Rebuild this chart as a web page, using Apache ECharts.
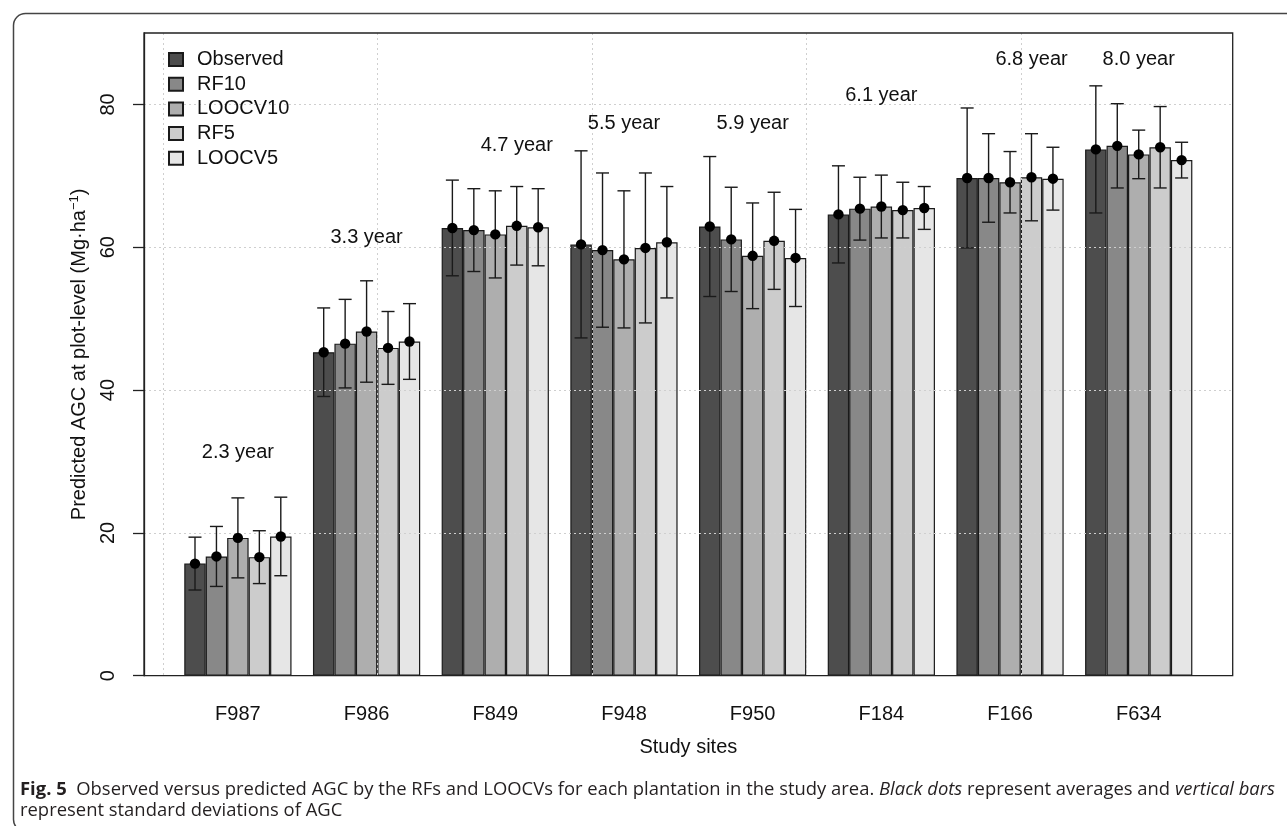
<!DOCTYPE html>
<html><head><meta charset="utf-8">
<script src="https://cdn.jsdelivr.net/npm/echarts@6/dist/echarts.min.js"></script>
<style>html,body{margin:0;padding:0;background:#fff}#c{width:1287px;height:826px}</style>
</head><body><div id="c"></div>
<script>
const sites = ['F987','F986','F849','F948','F950','F184','F166','F634'];
const seriesNames = ['Observed','RF10','LOOCV10','RF5','LOOCV5'];
const observedMean = [15.7,45.3,62.7,60.4,62.9,64.6,69.7,73.7];
const observedSd   = [3.7,6.2,6.7,13.1,9.8,6.8,9.8,8.9];
const rf10Mean     = [16.7,46.5,62.4,59.6,61.1,65.4,69.7,74.2];
const rf10Sd       = [4.2,6.2,5.8,10.8,7.3,4.4,6.2,5.9];
const loocv10Mean  = [19.3,48.2,61.8,58.3,58.8,65.7,69.1,73.0];
const loocv10Sd    = [5.6,7.1,6.1,9.6,7.4,4.4,4.3,3.4];
const rf5Mean      = [16.6,45.9,63.0,59.9,60.9,65.2,69.8,74.0];
const rf5Sd        = [3.7,5.1,5.5,10.5,6.8,3.9,6.1,5.7];
const loocv5Mean   = [19.5,46.8,62.8,60.7,58.5,65.5,69.6,72.2];
const loocv5Sd     = [5.5,5.3,5.4,7.8,6.8,3.0,4.4,2.5];
const ageLabels = ['2.3 year','3.3 year','4.7 year','5.5 year','5.9 year','6.1 year','6.8 year','8.0 year'];
const ageLabelX = [0,1,2.167,3,4,5,6.167,7];   // in site (category) units
const ageLabelY = [31.3,61.4,74.3,77.3,77.3,81.3,86.3,86.3];
const yTicks = [0,20,40,60,80];
// caption segments: [text, style] (b = bold, i = italic, '' = regular)
const captionLine1 = [['Fig. 5','b'],['  Observed versus predicted AGC by the RFs and LOOCVs for each plantation in the study area. ',''],['Black dots','i'],[' represent averages and ',''],['vertical bars','i']];
const captionLine2 = 'represent standard deviations of AGC';

const means = [observedMean, rf10Mean, loocv10Mean, rf5Mean, loocv5Mean];
const sds = [observedSd, rf10Sd, loocv10Sd, rf5Sd, loocv5Sd];
const colors = ['#4d4d4d','#888888','#aeaeae','#cccccc','#e6e6e6'];
const FONT = "'Liberation Sans', Arial, sans-serif";
const CFONT = "'Open Sans', sans-serif";
const INK = '#111';
const CINK = '#231f20';
const CSIZE = 18.5;

const chart = echarts.init(document.getElementById('c'), null, {renderer:'canvas'});

const errData = [];
means.forEach((arr, k) => arr.forEach((m, i) => errData.push([i, m, sds[k][i], k])));
const labelData = ageLabels.map((t, i) => [ageLabelX[i], ageLabelY[i], i]);

function renderErr(params, api) {
  const ci = api.value(0), m = api.value(1), s = api.value(2), k = api.value(3);
  const band = api.size([1, 0])[0];
  const bw = band / 6;
  const cx = api.coord([ci, m])[0] + (k - 2) * bw;
  const yT = api.coord([ci, m + s])[1], yB = api.coord([ci, m - s])[1], yM = api.coord([ci, m])[1];
  const cap = 6.5;
  const st = {stroke: '#1a1a1a', lineWidth: 1.4};
  return {type: 'group', children: [
    {type: 'line', shape: {x1: cx, y1: yT, x2: cx, y2: yB}, style: st},
    {type: 'line', shape: {x1: cx - cap, y1: yT, x2: cx + cap, y2: yT}, style: st},
    {type: 'line', shape: {x1: cx - cap, y1: yB, x2: cx + cap, y2: yB}, style: st},
    {type: 'circle', shape: {cx: cx, cy: yM, r: 5.2}, style: {fill: '#000'}}
  ]};
}
function renderLabel(params, api) {
  const xv = api.value(0), yv = api.value(1), idx = api.value(2);
  const base = Math.floor(xv);
  const band = api.size([1, 0])[0];
  const p = api.coord([base, yv]);
  return {type: 'text', x: p[0] + (xv - base) * band, y: p[1],
    style: {text: ageLabels[idx], fontSize: 20, fontFamily: FONT, fill: INK, align: 'center', verticalAlign: 'middle'}};
}

// caption: condensed to fit the caption width
const mctx = document.createElement('canvas').getContext('2d');
function fontOf(st) {
  return (st === 'i' ? 'italic ' : '') + (st === 'b' ? 'bold ' : '') + CSIZE + 'px ' + CFONT;
}
const capLeft = 20, capRight = 1275;
const widths = captionLine1.map(([w, st]) => { mctx.font = fontOf(st); return mctx.measureText(w).width; });
const natW = widths.reduce((a, b) => a + b, 0);
const CSCALE = (capRight - capLeft) / natW;
const captionEls = [];
let cx0 = capLeft;
captionLine1.forEach(([w, st], i) => {
  captionEls.push({type: 'text', x: cx0, y: 790, scaleX: CSCALE,
    style: {text: w, font: fontOf(st), fill: CINK, verticalAlign: 'middle'}});
  cx0 += widths[i] * CSCALE;
});
captionEls.push({type: 'text', x: capLeft, y: 811, scaleX: CSCALE,
  style: {text: captionLine2, font: fontOf(''), fill: CINK, verticalAlign: 'middle'}});

const barSeries = seriesNames.map((n, k) => ({
  name: n, type: 'bar', xAxisIndex: 1, yAxisIndex: 1,
  barGap: '0%', barCategoryGap: '16.667%',
  itemStyle: {color: colors[k], borderColor: '#1a1a1a', borderWidth: 1.2},
  data: means[k], z: 2
}));

const option = {
  animation: false,
  backgroundColor: '#fff',
  grid: [
    {left: 144, right: 54.3, top: 33, bottom: 150.3, show: true, borderColor: '#222', borderWidth: 1.3, backgroundColor: 'transparent', z: 5},
    {left: 173.55, right: 83.93, top: 33, bottom: 150.3}
  ],
  xAxis: [
    {type: 'value', gridIndex: 0, min: -0.88, max: 49.88, z: 3,
     axisLine: {show: false, onZero: false}, axisTick: {show: false}, axisLabel: {show: false},
     splitLine: {show: true, lineStyle: {color: '#cfcfcf', type: [2, 3], width: 1}},
     name: 'Study sites', nameLocation: 'middle', nameGap: 62,
     nameTextStyle: {fontSize: 20, color: INK, fontFamily: FONT}},
    {type: 'category', gridIndex: 1, data: sites,
     axisLine: {show: false}, axisTick: {show: false},
     axisLabel: {fontSize: 20, color: INK, fontFamily: FONT, margin: 29}}
  ],
  yAxis: [
    {type: 'value', gridIndex: 0, min: 0, max: 90, z: 3,
     axisLine: {show: true, onZero: false, lineStyle: {color: '#222', width: 1.3}},
     axisTick: {show: true, length: 11, lineStyle: {color: '#222', width: 1.3}, customValues: yTicks},
     axisLabel: {rotate: 90, fontSize: 20, color: INK, fontFamily: FONT, margin: 26, customValues: yTicks},
     splitLine: {show: true, lineStyle: {color: '#cfcfcf', type: [2, 3], width: 1}},
     name: 'Predicted AGC at plot-level (Mg·ha{sup|−1})', nameLocation: 'middle', nameGap: 52,
     nameTextStyle: {fontSize: 20, color: INK, fontFamily: FONT, lineHeight: 22,
       rich: {sup: {fontSize: 13, fontFamily: FONT, color: INK, verticalAlign: 'top', lineHeight: 22}}}},
    {type: 'value', gridIndex: 1, min: 0, max: 90, show: false}
  ],
  legend: {
    orient: 'vertical', left: 163, top: 44.5, itemWidth: 14, itemHeight: 13, itemGap: 4.7,
    icon: 'rect', data: seriesNames, z: 6,
    textStyle: {fontSize: 20, color: INK, fontFamily: FONT, padding: [0, 0, 0, 9], lineHeight: 20}
  },
  series: barSeries.concat([
    {type: 'custom', xAxisIndex: 1, yAxisIndex: 1, data: errData, renderItem: renderErr, z: 4, silent: true},
    {type: 'custom', xAxisIndex: 1, yAxisIndex: 1, data: labelData, renderItem: renderLabel, z: 4, silent: true}
  ]),
  graphic: [
    {type: 'rect', left: 11, top: 11, shape: {width: 1300, height: 818, r: 12}, style: {fill: 'none', stroke: '#444', lineWidth: 1.5}, z: 0}
  ].concat(captionEls)
};
chart.setOption(option);
</script></body></html>
